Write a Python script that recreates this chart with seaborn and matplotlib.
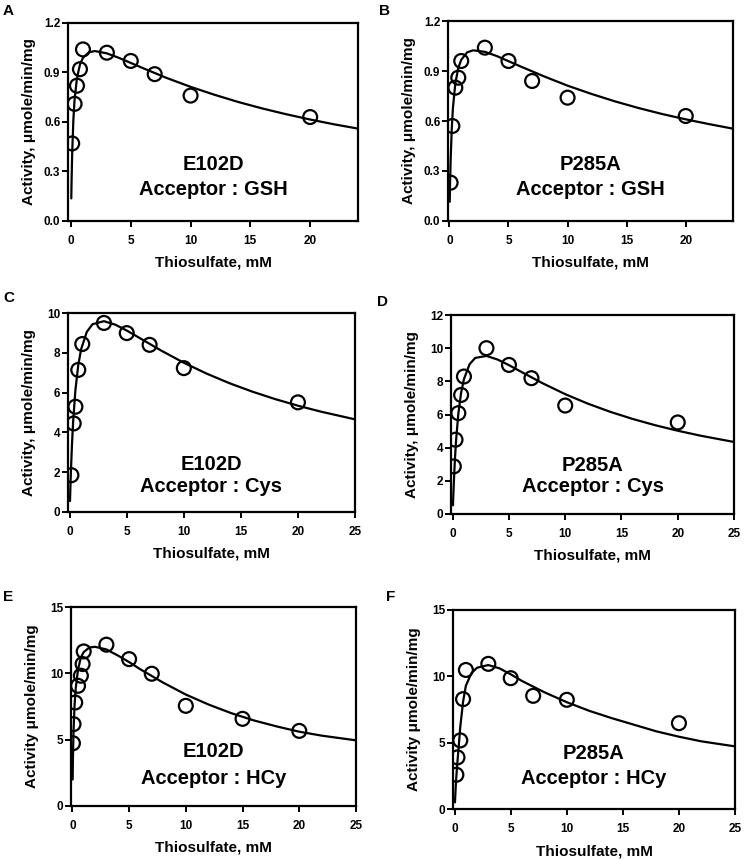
import matplotlib
matplotlib.use("Agg")
import matplotlib.pyplot as plt
import seaborn as sns
import pandas as pd

# ---------------- data ----------------
# measured points
a_x = [0.1, 0.3, 0.5, 0.75, 1, 3, 5, 7, 10, 20]
a_y = [0.47, 0.71, 0.82, 0.92, 1.04, 1.02, 0.97, 0.89, 0.76, 0.63]
b_x = [0.1, 0.25, 0.5, 0.75, 1, 3, 5, 7, 10, 20]
b_y = [0.23, 0.57, 0.80, 0.86, 0.96, 1.04, 0.96, 0.84, 0.74, 0.63]
c_x = [0.15, 0.35, 0.5, 0.75, 1.1, 3, 5, 7, 10, 20]
c_y = [1.85, 4.45, 5.29, 7.14, 8.44, 9.50, 8.99, 8.40, 7.23, 5.51]
d_x = [0.1, 0.25, 0.5, 0.75, 1, 3, 5, 7, 10, 20]
d_y = [2.87, 4.48, 6.08, 7.18, 8.29, 10.0, 8.99, 8.19, 6.54, 5.52]
e_x = [0.05, 0.1, 0.25, 0.5, 0.75, 0.9, 1.0, 3, 5, 7, 10, 15, 20]
e_y = [4.73, 6.17, 7.80, 9.06, 9.82, 10.70, 11.65, 12.16, 11.07, 9.97, 7.55, 6.57, 5.66]
f_x = [0.15, 0.25, 0.5, 0.75, 1, 3, 5, 7, 10, 20]
f_y = [2.58, 3.89, 5.17, 8.28, 10.48, 10.94, 9.86, 8.53, 8.23, 6.47]

# fitted curves
curve_x_ab = [0.025, 0.05, 0.1, 0.2, 0.3, 0.5, 0.75, 1, 1.5, 2, 3, 4, 5, 6, 8,
              10, 12, 14, 16, 18, 20, 22, 24]
curve_x_cf = [0.025, 0.05, 0.1, 0.2, 0.3, 0.5, 0.75, 1, 1.5, 2, 3, 4, 5, 6, 8,
              10, 12, 14, 16, 18, 20, 22, 25]
a_fit = [0.137, 0.247, 0.411, 0.615, 0.735, 0.867, 0.948, 0.989, 1.023, 1.030,
         1.016, 0.989, 0.958, 0.927, 0.867, 0.813, 0.765, 0.721, 0.682, 0.647,
         0.615, 0.586, 0.560]
b_fit = [0.115, 0.210, 0.359, 0.557, 0.681, 0.826, 0.918, 0.967, 1.012, 1.024,
         1.015, 0.990, 0.959, 0.928, 0.868, 0.812, 0.763, 0.718, 0.678, 0.642,
         0.610, 0.581, 0.554]
c_fit = [0.549, 1.055, 1.958, 3.417, 4.538, 6.129, 7.385, 8.182, 9.054, 9.437,
         9.589, 9.412, 9.118, 8.786, 8.117, 7.500, 6.954, 6.472, 6.049, 5.674,
         5.342, 5.045, 4.655]
d_fit = [0.524, 1.010, 1.884, 3.315, 4.431, 6.035, 7.318, 8.135, 9.029, 9.411,
         9.532, 9.311, 8.976, 8.607, 7.881, 7.227, 6.657, 6.162, 5.731, 5.353,
         5.021, 4.726, 4.343]
e_fit = [2.0, 3.6, 5.6, 7.7, 8.9, 10.3, 11.2, 11.6, 11.95, 12.0, 11.8, 11.35,
         10.85, 10.3, 9.3, 8.4, 7.65, 7.0, 6.45, 6.0, 5.6, 5.3, 4.95]
f_fit = [0.5, 0.95, 1.8, 3.1, 4.1, 6.2, 8.1, 9.3, 10.25, 10.65, 10.85, 10.6,
         10.15, 9.65, 8.8, 8.05, 7.4, 6.85, 6.35, 5.85, 5.45, 5.1, 4.72]

letters = ["A", "B", "C", "D", "E", "F"]
mutants = ["E102D", "P285A", "E102D", "P285A", "E102D", "P285A"]
acceptors = ["Acceptor : GSH", "Acceptor : GSH", "Acceptor : Cys",
             "Acceptor : Cys", "Acceptor : HCy", "Acceptor : HCy"]
ylabels = ["Activity, \u03bcmole/min/mg"] * 4 + ["Activity \u03bcmole/min/mg"] * 2
xlabel = "Thiosulfate, mM"
yticks_ab = [0.0, 0.3, 0.6, 0.9, 1.2]
yticklabels_ab = ["0.0", "0.3", "0.6", "0.9", "1.2"]
yticks_c = [0, 2, 4, 6, 8, 10]
yticks_d = [0, 2, 4, 6, 8, 10, 12]
yticks_ef = [0, 5, 10, 15]
xticks_ab = [0, 5, 10, 15, 20]
xticks_cf = [0, 5, 10, 15, 20, 25]

points = [(a_x, a_y), (b_x, b_y), (c_x, c_y), (d_x, d_y), (e_x, e_y), (f_x, f_y)]
fits = [(curve_x_ab, a_fit), (curve_x_ab, b_fit), (curve_x_cf, c_fit),
        (curve_x_cf, d_fit), (curve_x_cf, e_fit), (curve_x_cf, f_fit)]
yticks = [yticks_ab, yticks_ab, yticks_c, yticks_d, yticks_ef, yticks_ef]
xticks = [xticks_ab, xticks_ab, xticks_cf, xticks_cf, xticks_cf, xticks_cf]

# ---------------- layout (pixels) ----------------
W, H = 745, 860
# left, right, top, bottom of each axes box
boxes = [(68, 358, 23, 221), (448, 733, 21, 221),
         (68, 355, 313, 512), (451, 734, 315, 514),
         (71, 356, 607, 806), (453, 735, 610, 809)]
xlims = [(-0.25, 24), (-0.12, 24), (-0.15, 25), (-0.15, 25), (-0.12, 25), (-0.15, 25)]
ylims = [(0, 1.2), (0, 1.2), (0, 10), (0, 12), (0, 15), (0, 15)]
letter_pos = [(3, 4), (379, 4), (3, 291), (377, 295), (3, 590), (386, 590)]
text_y = [(0.283, 0.157), (0.283, 0.157), (0.241, 0.127),
          (0.246, 0.137), (0.273, 0.139), (0.28, 0.154)]

sns.set_style("ticks")
plt.rcParams['font.family'] = ['Liberation Sans', 'DejaVu Sans']
plt.rcParams['font.weight'] = 'bold'
plt.rcParams['axes.labelweight'] = 'bold'
plt.rcParams['text.color'] = 'black'
plt.rcParams['axes.labelcolor'] = 'black'
plt.rcParams['xtick.color'] = 'black'
plt.rcParams['ytick.color'] = 'black'

fig = plt.figure(figsize=(W / 100, H / 100), dpi=100)

for i in range(6):
    l, r, t, b = boxes[i]
    ax = fig.add_axes([l / W, 1 - b / H, (r - l) / W, (b - t) / H])
    cx, cy = fits[i]
    sns.lineplot(x=cx, y=cy, ax=ax, color="black", linewidth=1.6,
                 sort=False, estimator=None, zorder=2)
    px, py = points[i]
    sns.scatterplot(x=px, y=py, ax=ax, marker="o", s=100,
                    facecolor="none", edgecolor="black", linewidth=1.6, zorder=3)
    ax.set_xlim(*xlims[i])
    ax.set_ylim(*ylims[i])
    ax.set_xticks(xticks[i])
    ax.set_yticks(yticks[i])
    if i < 2:
        ax.set_yticklabels(yticklabels_ab)
    for s in ax.spines.values():
        s.set_visible(True)
        s.set_linewidth(1.6)
        s.set_color("black")
    ax.tick_params(direction="out", length=4, width=1.4, labelsize=8.5,
                   colors="black", labelcolor="black")
    ax.tick_params(axis="x", pad=6)
    ax.tick_params(axis="y", pad=1.5)
    for lab in ax.get_xticklabels() + ax.get_yticklabels():
        lab.set_fontweight("bold")
    hpx = b - t
    wpx = r - l
    ax.set_xlabel(xlabel, fontsize=11, fontweight="bold", color="black")
    ax.set_ylabel(ylabels[i], fontsize=11, fontweight="bold", color="black")
    ax.xaxis.set_label_coords(0.5, -35 / hpx)
    ax.yaxis.set_label_coords(-32 / wpx, 0.5)
    ax.text(0.5, text_y[i][0], mutants[i], transform=ax.transAxes,
            ha="center", va="center", fontsize=14.5, fontweight="bold",
            color="black")
    ax.text(0.5, text_y[i][1], acceptors[i], transform=ax.transAxes,
            ha="center", va="center", fontsize=14.5, fontweight="bold",
            color="black")
    fig.text(letter_pos[i][0] / W, 1 - letter_pos[i][1] / H, letters[i],
             ha="left", va="top", fontsize=11, fontweight="bold", color="black")

fig.savefig("out.png", dpi=100, facecolor="white")
